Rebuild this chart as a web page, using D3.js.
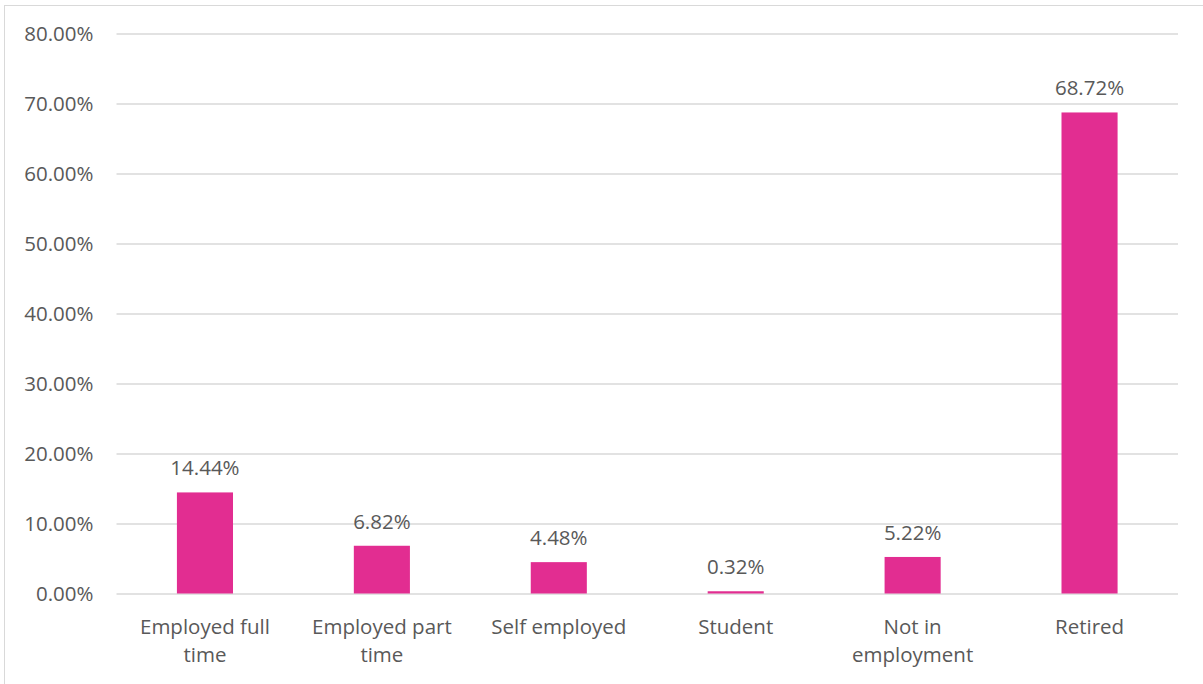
<!DOCTYPE html>
<html>
<head>
<meta charset="utf-8">
<script src="https://cdn.jsdelivr.net/npm/d3@7"></script>
<style>
  html, body { margin: 0; padding: 0; background: #fff; }
  svg { display: block; }
  text { font-family: "Open Sans", sans-serif; fill: #595959; }
</style>
</head>
<body>
<svg id="chart" width="1203" height="684"></svg>
<script>
// Employment status shares
const categories = [
  ["Employed full", "time"],
  ["Employed part", "time"],
  ["Self employed"],
  ["Student"],
  ["Not in", "employment"],
  ["Retired"]
];
const values = [14.44, 6.82, 4.48, 0.32, 5.22, 68.72];
const yTicks = [0, 10, 20, 30, 40, 50, 60, 70, 80];

const svg = d3.select("#chart");
const W = 1203, H = 684;
const plot = { left: 116.5, right: 1178, top: 33.5, bottom: 593.5 };
const fontSize = 20.5;

// Outer chart frame
svg.append("rect")
  .attr("x", 4.5).attr("y", 5.5)
  .attr("width", W + 10).attr("height", H + 10)
  .attr("fill", "none").attr("stroke", "#d9d9d9").attr("stroke-width", 1);

const x = d3.scaleBand()
  .domain(d3.range(categories.length))
  .range([plot.left, plot.right])
  .paddingInner(0.683).paddingOuter(0.3415);

const y = d3.scaleLinear().domain([0, 80]).range([plot.bottom, plot.top]);

// Gridlines and y tick labels
const yAxis = d3.axisLeft(y)
  .tickValues(yTicks)
  .tickSize(-(plot.right - plot.left))
  .tickPadding(23)
  .tickFormat(d => d.toFixed(2) + "%");

const gy = svg.append("g")
  .attr("transform", `translate(${plot.left},0)`)
  .call(yAxis);
gy.select(".domain").remove();
gy.selectAll(".tick line").attr("stroke", "#d9d9d9").attr("stroke-width", 1.3);
gy.selectAll(".tick text")
  .attr("font-size", fontSize)
  .attr("fill", "#595959")
  .attr("dy", "0.35em")
  .style("font-family", "'Open Sans', sans-serif");

// Bars
svg.append("g").selectAll("rect")
  .data(values)
  .join("rect")
  .attr("x", (d, i) => x(i))
  .attr("width", x.bandwidth())
  .attr("y", d => y(d))
  .attr("height", d => y(0) - y(d))
  .attr("fill", "#e22d91");

// Value labels
svg.append("g").selectAll("text")
  .data(values)
  .join("text")
  .attr("x", (d, i) => x(i) + x.bandwidth() / 2)
  .attr("y", d => y(d) - 17)
  .attr("text-anchor", "middle")
  .attr("font-size", fontSize)
  .text(d => d.toFixed(2) + "%");

// Category labels (wrapped onto two lines where needed)
const cat = svg.append("g").selectAll("text")
  .data(categories)
  .join("text")
  .attr("text-anchor", "middle")
  .attr("font-size", fontSize)
  .attr("x", (d, i) => x(i) + x.bandwidth() / 2)
  .attr("y", 634);
cat.selectAll("tspan")
  .data(d => d)
  .join("tspan")
  .attr("x", function() { return d3.select(this.parentNode).attr("x"); })
  .attr("dy", (d, i) => i === 0 ? 0 : 28)
  .text(d => d);
</script>
</body>
</html>
